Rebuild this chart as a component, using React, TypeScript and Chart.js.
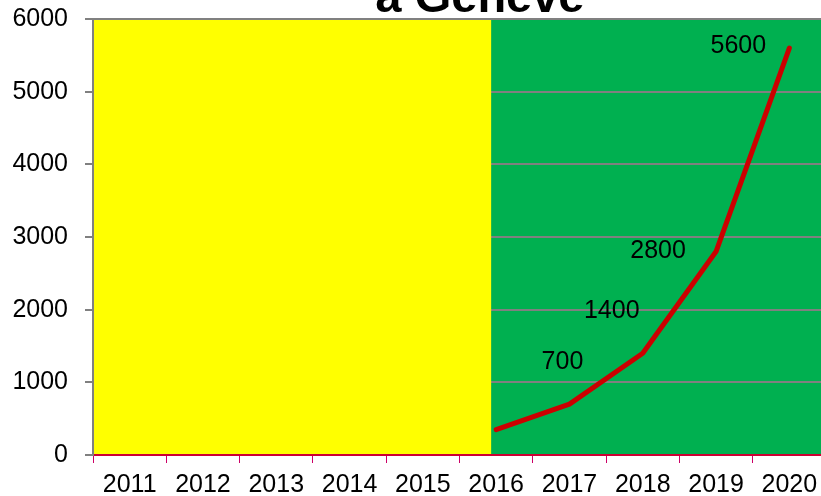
import React, { useEffect, useRef } from "react";
import { Chart, registerables } from "chart.js";

Chart.register(...registerables);

const years = ["2011", "2012", "2013", "2014", "2015", "2016", "2017", "2018", "2019", "2020"];
const values: (number | null)[] = [null, null, null, null, null, 350, 700, 1400, 2800, 5600];
const shownLabels: boolean[] = [false, false, false, false, false, false, true, true, true, true];
const yTicks = [0, 1000, 2000, 3000, 4000, 5000, 6000];
const titleText = "à Genève";
const splitYear = "2016";

// style: label offsets relative to points (px)
const labelOffsets: [number, number][] = [
  [0, 0], [0, 0], [0, 0], [0, 0], [0, 0], [0, 0],
  [-7, -42], [-31, -42], [-58, 0], [-51, -2],
];

const FONT = "'Liberation Sans', Arial, sans-serif";

export default function App() {
  const ref = useRef<HTMLCanvasElement | null>(null);
  useEffect(() => {
    if (!ref.current) return;
    const bgPlugin = {
      id: "bgPlugin",
      beforeDraw(chart: any) {
        const { ctx, chartArea: a } = chart;
        ctx.save();
        ctx.fillStyle = "#00b050";
        ctx.fillRect(a.left, a.top, a.right - a.left, a.bottom - a.top);
        ctx.restore();
      },
      beforeDatasetsDraw(chart: any) {
        const { ctx, chartArea: a, scales } = chart;
        const xs = scales.x.getPixelForValue(years.indexOf(splitYear)) - 5;
        ctx.save();
        ctx.fillStyle = "#ffff00";
        ctx.fillRect(a.left + 1, a.top + 1, xs - a.left - 1, a.bottom - a.top - 2);
        ctx.restore();
      },
      afterDatasetsDraw(chart: any) {
        const { ctx } = chart;
        const meta = chart.getDatasetMeta(0);
        ctx.save();
        ctx.fillStyle = "#000";
        ctx.font = `25px ${FONT}`;
        ctx.textAlign = "center";
        ctx.textBaseline = "middle";
        meta.data.forEach((pt: any, i: number) => {
          const v = values[i];
          if (v == null || !shownLabels[i]) return;
          const [dx, dy] = labelOffsets[i];
          ctx.fillText(String(v), pt.x + dx, pt.y + dy);
        });
        ctx.restore();
      },
      afterDraw(chart: any) {
        const { ctx } = chart;
        ctx.save();
        ctx.fillStyle = "#000";
        ctx.font = `bold 47px ${FONT}`;
        ctx.textAlign = "center";
        ctx.textBaseline = "alphabetic";
        ctx.fillText(titleText, 480, 12);
        ctx.restore();
      },
    };

    const chart = new Chart(ref.current, {
      type: "line",
      data: {
        labels: years,
        datasets: [
          {
            data: values,
            borderColor: "#cc0000",
            borderWidth: 5,
            pointRadius: 0,
            tension: 0,
            fill: false,
            borderCapStyle: "round",
            borderJoinStyle: "round",
          },
        ],
      },
      options: {
        responsive: false,
        animation: false,
        devicePixelRatio: 1,
        layout: { padding: { top: 19, right: 4, left: 0, bottom: 0 } },
        plugins: { legend: { display: false }, title: { display: false }, tooltip: { enabled: false } },
        scales: {
          x: {
            type: "category",
            offset: true,
            grid: {
              offset: true,
              drawOnChartArea: false,
              drawTicks: true,
              tickLength: 8,
              color: "#cc0066",
            },
            border: { color: "#cc0033", width: 2 },
            ticks: { color: "#000", font: { family: FONT, size: 25 }, padding: 7, maxRotation: 0, autoSkip: false },
            afterFit(scale: any) { scale.height = 41; },
          },
          y: {
            min: 0,
            max: 6000,
            afterBuildTicks(scale: any) { scale.ticks = yTicks.map((v) => ({ value: v })); },
            grid: { color: "#808080", lineWidth: 2, drawTicks: true, tickLength: 8 },
            border: { color: "#808080", width: 2 },
            ticks: {
              color: "#000",
              font: { family: FONT, size: 25 },
              padding: 17,
              callback: (v: any) => String(v),
            },
            afterFit(scale: any) {
              scale.width = 93;
              scale.paddingTop = 0;
              scale.paddingBottom = 0;
            },
          },
        },
      },
      plugins: [bgPlugin],
    } as any);
    return () => chart.destroy();
  }, []);

  return (
    <div style={{ position: "fixed", left: 0, top: 0, width: 821, height: 496, overflow: "hidden", background: "#fff" }}>
      <canvas ref={ref} width={830} height={496} style={{ position: "absolute", left: 0, top: 0, width: 830, height: 496 }} />
    </div>
  );
}
